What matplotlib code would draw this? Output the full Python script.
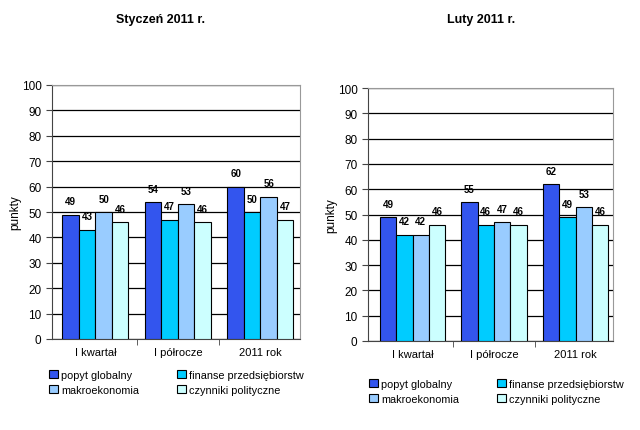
import matplotlib
matplotlib.use("Agg")
import matplotlib.pyplot as plt
import numpy as np
from matplotlib.patches import Patch

plt.rcParams['font.family'] = ['Liberation Sans', 'DejaVu Sans']

# dane
categories = ['I kwartał', 'I półrocze', '2011 rok']
series = ['popyt globalny', 'finanse przedsiębiorstw', 'makroekonomia', 'czynniki polityczne']
colors = ['#3355ee', '#00ccff', '#99ccff', '#ccffff']

jan_title = 'Styczeń 2011 r.'
jan_values = [
    [49, 54, 60],   # popyt globalny
    [43, 47, 50],   # finanse przedsiębiorstw
    [50, 53, 56],   # makroekonomia
    [46, 46, 47],   # czynniki polityczne
]

feb_title = 'Luty 2011 r.'
feb_values = [
    [49, 55, 62],
    [42, 46, 49],
    [42, 47, 53],
    [46, 46, 46],
]

W, H = 640, 431
fig = plt.figure(figsize=(6.4, 4.31), dpi=100)


def draw_panel(rect_px, xlim, values, title, title_x, legend_xy):
    x0, y_top, x1, y_bot = rect_px
    ax = fig.add_axes([x0 / W, 1 - y_bot / H, (x1 - x0) / W, (y_bot - y_top) / H])
    x = np.arange(len(categories))
    bw = 0.2
    for i, (name, vals) in enumerate(zip(series, values)):
        pos = x + (i - 1.5) * bw
        ax.bar(pos, vals, bw, color=colors[i], edgecolor='black', linewidth=0.8,
               label=name, zorder=3)
        for p, v in zip(pos, vals):
            ax.annotate(str(v), (p, v), xytext=(0, 6), textcoords='offset points',
                        ha='center', va='bottom', fontsize=7, fontweight='bold')
    ax.set_ylim(0, 100)
    ax.set_xlim(*xlim)
    ax.set_yticks(range(0, 101, 10))
    ax.yaxis.grid(True, color='black', linewidth=0.9, zorder=0)
    ax.set_axisbelow(True)
    ax.set_xticks(x)
    ax.set_xticklabels(categories)
    ax.set_xticks([0.5, 1.5], minor=True)
    ax.tick_params(axis='x', which='major', length=0, labelsize=8, pad=6)
    ax.tick_params(axis='x', which='minor', length=4, color='#444444')
    ax.tick_params(axis='y', length=4, labelsize=8.5, color='#444444')
    for s in ['top', 'right']:
        ax.spines[s].set_color('#999999')
    for s in ['left', 'bottom']:
        ax.spines[s].set_color('#444444')
    ax.set_ylabel('punkty', fontsize=8.5, labelpad=0)
    fig.text(title_x / W, 1 - 20 / H, title, ha='center', va='center',
             fontsize=9, fontweight='bold')
    # kolejność wierszami: popyt, finanse / makro, czynniki
    order = [0, 2, 1, 3]
    handles = [Patch(facecolor=colors[k], edgecolor='black', linewidth=0.8) for k in order]
    fig.legend(handles, [series[k] for k in order], loc='upper left',
               bbox_to_anchor=(legend_xy[0] / W, 1 - legend_xy[1] / H),
               ncol=2, frameon=False, fontsize=7.8, handlelength=0.8,
               handleheight=0.8, handletextpad=0.3, columnspacing=3.5,
               labelspacing=0.45, borderaxespad=0, borderpad=0)
    return ax


draw_panel((52, 86, 300, 340), (-0.527, 2.48), jan_values, jan_title, 161, (49, 371))
draw_panel((368, 89, 613, 342), (-0.546, 2.46), feb_values, feb_title, 481, (369, 380))

fig.savefig('out.png', dpi=100)
